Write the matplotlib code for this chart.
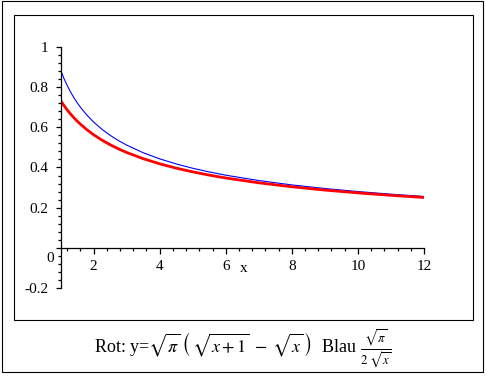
import matplotlib.pyplot as plt
import numpy as np
from matplotlib.patches import Rectangle
from matplotlib.ticker import MultipleLocator, FixedLocator

# values
x_vals = [1, 1.1, 1.2, 1.3, 1.4, 1.5, 1.6, 1.8, 2, 2.25, 2.5, 2.75, 3, 3.5,
          4, 4.5, 5, 5.5, 6, 7, 8, 9, 10, 11, 12]
red_vals = [0.7342, 0.7096, 0.6873, 0.6671, 0.6487, 0.6317, 0.6160, 0.5879,
            0.5634, 0.5367, 0.5135, 0.4931, 0.4749, 0.4440, 0.4184, 0.3968,
            0.3783, 0.3621, 0.3479, 0.3238, 0.3041, 0.2876, 0.2736, 0.2614,
            0.2507]
blue_vals = [0.8862, 0.8450, 0.8090, 0.7773, 0.7490, 0.7236, 0.7006, 0.6606,
             0.6267, 0.5908, 0.5605, 0.5344, 0.5117, 0.4737, 0.4431, 0.4178,
             0.3963, 0.3779, 0.3618, 0.3350, 0.3133, 0.2954, 0.2802, 0.2672,
             0.2558]
x_ticks = [2, 4, 6, 8, 10, 12]
y_ticks = [-0.2, 0, 0.2, 0.4, 0.6, 0.8, 1]
y_labels = ['-0.2', '', '0.2', '0.4', '0.6', '0.8', '1']

plt.rcParams['font.family'] = ['Liberation Serif', 'DejaVu Serif']
plt.rcParams['mathtext.fontset'] = 'stix'

W, H = 486, 377
fig = plt.figure(figsize=(W / 100, H / 100), dpi=100)


def px_rect(x0, y0, x1, y1):
    # rectangle given in pixel coords (top-left origin)
    return Rectangle((x0 / W, 1 - y1 / H), (x1 - x0) / W, (y1 - y0) / H,
                     transform=fig.transFigure, fill=False, ec='black',
                     lw=0.8, figure=fig)


fig.patches.append(px_rect(1.5, 0.5, 483, 371.5))
fig.patches.append(px_rect(13.5, 14.5, 472.5, 319.5))

left, right, top, bottom = 60.5, 424, 47, 288
ax = fig.add_axes([left / W, 1 - bottom / H, (right - left) / W, (bottom - top) / H])
ax.set_xlim(1, 12)
ax.set_ylim(-0.2, 1)
ax.patch.set_alpha(0)

ax.plot(x_vals, blue_vals, color='blue', lw=0.8)
ax.plot(x_vals, red_vals, color='red', lw=2.0)

for s in ['top', 'right']:
    ax.spines[s].set_visible(False)
ax.spines['bottom'].set_position(('data', 0))
ax.spines['left'].set_position(('data', 1))
ax.spines['bottom'].set_linewidth(0.9)
ax.spines['left'].set_linewidth(0.9)

ax.set_xticks(x_ticks)
ax.set_xticklabels([str(t) for t in x_ticks])
ax.xaxis.set_minor_locator(FixedLocator(np.arange(1.2, 12, 0.4)))
ax.set_yticks(y_ticks)
ax.set_yticklabels(y_labels)
ax.yaxis.set_minor_locator(MultipleLocator(0.04))

ax.tick_params(axis='x', which='major', direction='out', length=4, width=0.9,
               pad=5, labelsize=11)
ax.tick_params(axis='x', which='minor', direction='out', length=2.5, width=0.9)
ax.tick_params(axis='y', which='major', direction='out', length=3.5, width=0.9,
               pad=5, labelsize=11)
ax.tick_params(axis='y', which='minor', direction='out', length=2, width=0.9)

ax.text(0.8, -0.055, '0', ha='right', va='center', fontsize=11)
ax.text(6.55, -0.105, 'x', ha='center', va='center', fontsize=11)

fig.text(243 / W, 1 - 349 / H,
         r'Rot: y=$\sqrt{\pi}\,\left(\,\sqrt{x+1}\;-\;\sqrt{x}\,\right)$  Blau $\frac{\sqrt{\pi}}{2\;\sqrt{x}}$',
         ha='center', va='center', fontsize=13)

fig.savefig('out.png', dpi=100)
